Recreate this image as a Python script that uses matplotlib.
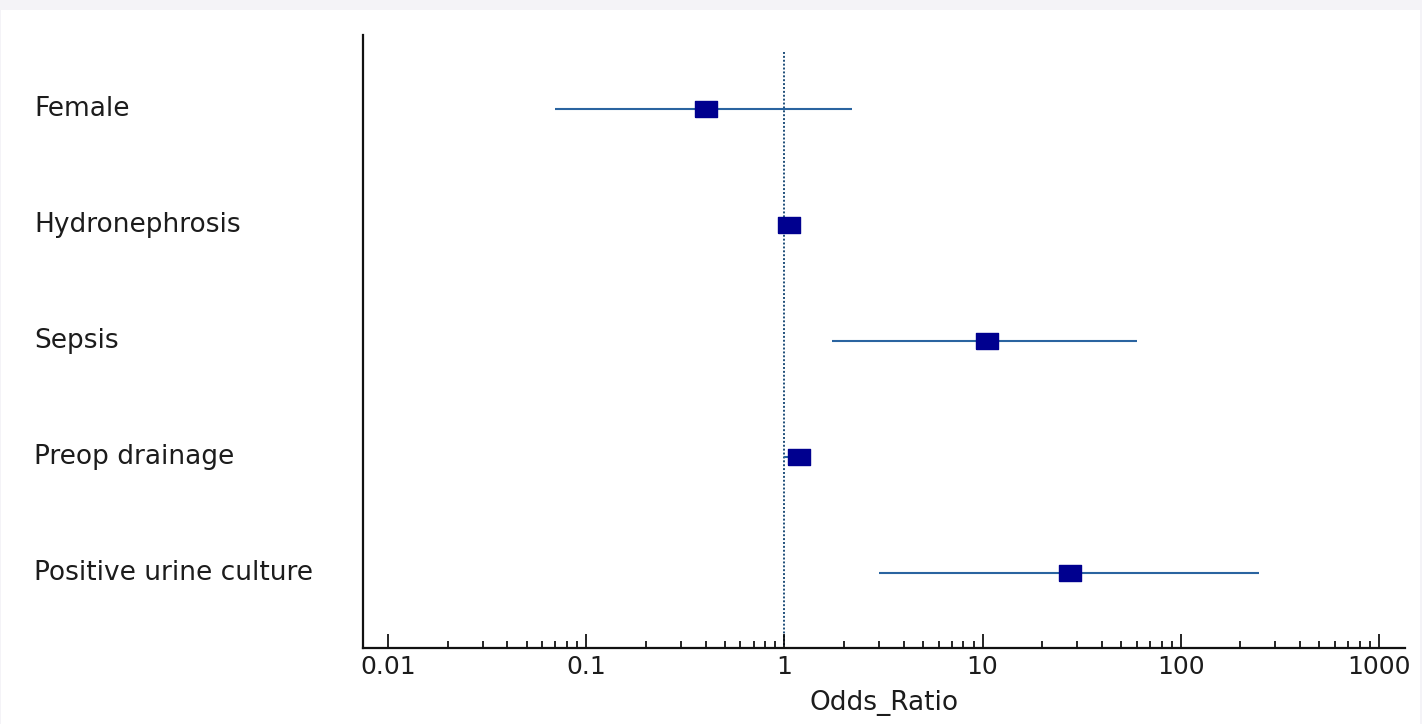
import numpy as np
import matplotlib.pyplot as plt
from matplotlib.patches import Rectangle
from matplotlib.ticker import FixedLocator
from matplotlib.transforms import blended_transform_factory

# -------------------- Datos --------------------
variables = ["Female", "Hydronephrosis", "Sepsis", "Preop drainage", "Positive urine culture"]
odds_ratio = [0.40, 1.06, 10.5, 1.18, 27.5]
ic_inf = [0.07, 1.00, 1.73, 1.00, 3.0]
ic_sup = [2.2, 1.12, 60.0, 1.30, 248.0]
ticks_x = [0.01, 0.1, 1, 10, 100, 1000]
etiquetas_x = ["0.01", "0.1", "1", "10", "100", "1000"]

plt.rcParams['font.family'] = ['DejaVu Sans']
color_texto = "#1c1c1c"

fig = plt.figure(figsize=(14.22, 7.24), dpi=100)
fig.patch.set_facecolor("#f4f3f7")
# fondo blanco bajo la franja gris superior
fig.patches.append(Rectangle((1 / 1422, 0), 1419 / 1422, 1 - 10 / 724,
                             transform=fig.transFigure, facecolor="white",
                             edgecolor="none", zorder=-10))

ax = fig.add_axes([363 / 1422, 1 - 648 / 724, (1405 - 363) / 1422, (648 - 35) / 724])
ax.set_facecolor("none")

y = np.arange(len(variables))

# linea de referencia en OR = 1
ax.vlines(1, -0.49, 4.65, colors="#1f4f7a", linestyles=(0, (1, 1)), linewidth=1.4, zorder=1)

# intervalos de confianza
ax.hlines(y, ic_inf, ic_sup, colors="#2a64a0", linewidth=1.5, zorder=2)

# cuadrados (rectangulares) del OR
rect = [(-1.375, -1), (1.375, -1), (1.375, 1), (-1.375, 1), (-1.375, -1)]
ax.plot(odds_ratio, y, linestyle="none", marker=rect, markersize=16,
        color="#00008f", markeredgecolor="#00008f", zorder=3)

ax.set_xscale("log")
ax.set_xlim(0.00748, 1353)
ax.set_ylim(4.647, -0.638)

ax.set_xticks(ticks_x)
ax.set_xticklabels(etiquetas_x, fontsize=18, color=color_texto)
# marcas menores solo entre 0.01 y 1000
menores = [m * 10.0 ** e for e in range(-2, 3) for m in range(2, 10)]
ax.xaxis.set_minor_locator(FixedLocator(menores))
ax.tick_params(axis="x", which="major", direction="in", length=10, width=1.2, pad=5)
ax.tick_params(axis="x", which="minor", direction="in", length=5, width=1.2)
ax.set_yticks([])

for s in ["top", "right"]:
    ax.spines[s].set_visible(False)
for s in ["left", "bottom"]:
    ax.spines[s].set_linewidth(1.6)
    ax.spines[s].set_color("#111111")

ax.set_xlabel("Odds_Ratio", fontsize=19, color=color_texto, labelpad=8)

# etiquetas de las variables, alineadas a la izquierda
trans = blended_transform_factory(fig.transFigure, ax.transData)
for i, nombre in enumerate(variables):
    ax.text(34 / 1422, y[i], nombre, transform=trans, ha="left", va="center",
            fontsize=19, color=color_texto)

fig.savefig("out.png", dpi=100, facecolor=fig.get_facecolor())
